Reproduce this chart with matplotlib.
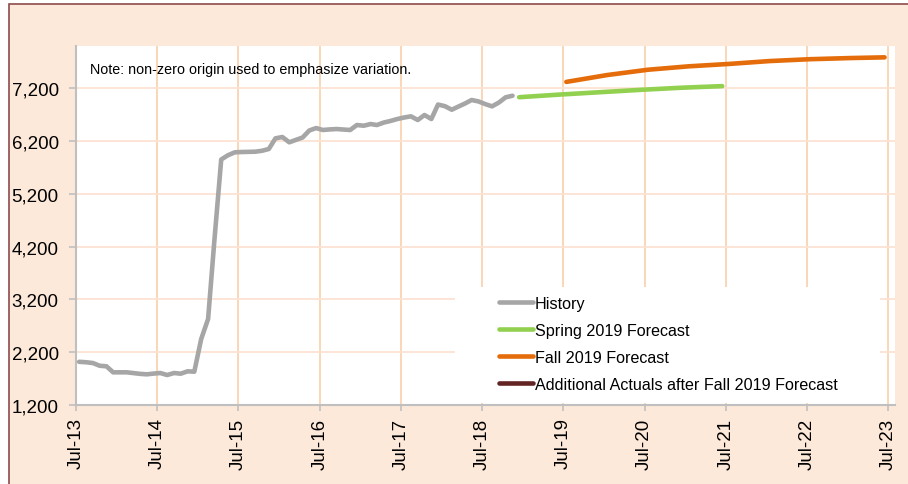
import matplotlib
matplotlib.use("Agg")
import matplotlib.pyplot as plt
import matplotlib.dates as mdates
from matplotlib.patches import Rectangle
from matplotlib.ticker import FuncFormatter
import pandas as pd

plt.rcParams["font.family"] = ["Liberation Sans", "DejaVu Sans"]

# monthly history, mid-month points Jul-13 .. Nov-18
history_months = pd.date_range("2013-07-01", "2018-11-01", freq="MS") + pd.Timedelta(days=14)
history_values = [
    2018, 2010, 1995, 1944, 1933, 1819, 1819, 1819, 1805, 1790, 1781, 1795,
    1806, 1768, 1806, 1793, 1838, 1831, 2450, 2829, 4300, 5850, 5930, 5986,
    5992, 5995, 5998, 6015, 6049, 6251, 6276, 6176, 6220, 6267, 6399, 6446,
    6409, 6420, 6427, 6418, 6409, 6503, 6490, 6522, 6503, 6550, 6580, 6617,
    6645, 6668, 6598, 6693, 6617, 6891, 6860, 6793, 6850, 6910, 6977, 6950,
    6900, 6857, 6930, 7028, 7058,
]

spring_dates = ["2018-12-15", "2019-06-15", "2019-12-15", "2020-06-15", "2020-12-15", "2021-06-15"]
spring_values = [7030, 7080, 7125, 7170, 7210, 7240]

fall_dates = ["2019-07-15", "2020-01-15", "2020-07-15", "2021-01-15", "2021-07-15",
              "2022-01-15", "2022-07-15", "2023-01-15", "2023-06-15"]
fall_values = [7320, 7450, 7550, 7615, 7660, 7715, 7750, 7772, 7785]

extra_dates = []
extra_values = []

y_ticks = [1200, 2200, 3200, 4200, 5200, 6200, 7200]

W, H = 908, 485
fig = plt.figure(figsize=(W / 100, H / 100), dpi=100)
fig.patch.set_facecolor("white")

# peach panel with maroon border (only left/top edges visible)
fig.patches.append(Rectangle((8.5 / W, -0.1), 1.2, 1 - 4.5 / H + 0.1, transform=fig.transFigure,
                             facecolor="#FDE9D9", edgecolor="#8E4B4B", linewidth=1.2, zorder=-10))

ax = fig.add_axes([76 / W, (H - 406) / H, (895 - 76) / W, (406 - 47) / H])
ax.set_facecolor("white")

ax.plot(pd.to_datetime(history_months), history_values, color="#A6A6A6", lw=3.3,
        solid_capstyle="round", solid_joinstyle="round", label="History", zorder=3)
ax.plot(pd.to_datetime(spring_dates), spring_values, color="#92D050", lw=3.3,
        solid_capstyle="round", label="Spring 2019 Forecast", zorder=3)
ax.plot(pd.to_datetime(fall_dates), fall_values, color="#E46C0A", lw=3.3,
        solid_capstyle="round", label="Fall 2019 Forecast", zorder=3)
ax.plot(pd.to_datetime(extra_dates), extra_values, color="#632523", lw=3.3,
        solid_capstyle="round", label="Additional Actuals after Fall 2019 Forecast", zorder=3)

ax.set_xlim(pd.Timestamp("2013-07-01"), pd.Timestamp("2023-08-01"))
ax.set_ylim(1200, 8000)
ax.set_yticks(y_ticks)
ax.yaxis.set_major_formatter(FuncFormatter(lambda v, p: f"{int(v):,}"))
ax.xaxis.set_major_locator(mdates.YearLocator(base=1, month=7, day=1))
ax.xaxis.set_major_formatter(mdates.DateFormatter("%b-%y"))

ax.xaxis.grid(True, color="#FAD3AF", lw=1.3)
ax.yaxis.grid(True, color="#FCE3D2", lw=1.3)
ax.set_axisbelow(True)

for s in ["top", "right"]:
    ax.spines[s].set_visible(False)
for s in ["left", "bottom"]:
    ax.spines[s].set_color("#BFBFBF")
    ax.spines[s].set_linewidth(1.5)

ax.tick_params(axis="y", length=5, color="#BFBFBF", width=1.2, pad=7.5, labelsize=13.5)
ax.tick_params(axis="x", length=4, color="#BFBFBF", width=1.2, pad=5, labelsize=13.5, labelrotation=90)

# white legend panel over the gridlines
ax.add_patch(Rectangle((455 / W, (H - 404) / H), (880 - 455) / W, (404 - 288) / H,
                       transform=fig.transFigure, facecolor="white", edgecolor="none", zorder=2))
leg = ax.legend(loc="upper left", bbox_to_anchor=(499 / W, (H - 296.5) / H),
                bbox_transform=fig.transFigure, frameon=False, fontsize=11.6,
                handlelength=2.1, handletextpad=0.12, labelspacing=0.75,
                borderpad=0, borderaxespad=0)
leg.set_zorder(5)

fig.text(90 / W, 1 - 70 / H, "Note: non-zero origin used to emphasize variation.",
         fontsize=10.3, ha="left", va="center")

fig.savefig("out.png", dpi=100)
